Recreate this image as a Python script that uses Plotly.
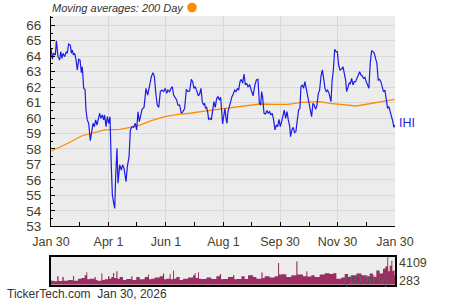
import plotly.graph_objects as go
import pandas as pd

START = pd.Timestamp("2025-01-30")
END = pd.Timestamp("2026-01-30")

# IHI closing prices (day offset from Jan 30, 2025, value)
price_days = [0, 1.4, 2.5, 4.6, 5.7, 7.4, 9.2, 10.3, 11.7, 12.7, 14.5, 16.3, 17.3, 18.7, 20.5, 21.6, 22.6,
              23.7, 25.1, 26.5, 27.9, 29.4, 30.8, 32.2, 33.2, 34.7, 36.1, 37.1, 38.5, 40, 41.7, 43.1, 44.6,
              46, 47.4, 48.8, 50.2, 51.6, 53, 54.5, 55.9, 56.9, 58.4, 59.8, 61.2, 62.6, 64, 65.1, 66.5,
              67.6, 68.6, 70, 71.1, 72.1, 72.9, 74.6, 76, 77.5, 79.6, 81, 82.8, 84.2, 85.9, 87.7, 89.5,
              90.9, 92.3, 93.7, 95.2, 96.6, 98.7, 100.8, 102.6, 104.4, 106.5, 108.2, 109.7, 111.4, 112.8,
              114.3, 116, 117.8, 119.5, 121.3, 122.7, 124.1, 125.9, 127.3, 128.7, 130.1, 131.9, 133.3,
              134.7, 136.5, 138.3, 140, 141.8, 143.6, 145.4, 147.1, 148.9, 150.3, 151.7, 153.1, 154.9,
              156.3, 157.7, 159.1, 160.5, 161.9, 163, 164, 165.1, 166.2, 167.2, 168.7, 170.1, 171.5,
              172.9, 174.3, 175.8, 177.2, 178.6, 180, 181.1, 182.1, 183.2, 184.6, 185.7, 186.7, 187.8,
              189.2, 190.6, 192, 193.4, 194.9, 196.3, 197.7, 199.1, 200.5, 201.9, 203.4, 204.8, 206.2,
              207.6, 209, 210.8, 212.6, 214.4, 216.1, 217.9, 219.6, 221.1, 222.5, 223.5, 224.6, 226,
              227.4, 229.2, 230.6, 232, 233.4, 234.8, 236.2, 237.7, 239.1, 240.5, 241.9, 243.3, 244.7,
              246.1, 247.5, 249, 250.4, 251.8, 253.2, 254.2, 255.6, 257, 258.4, 259.8, 261.3, 262.7,
              264.1, 265.2, 266.6, 268, 269.4, 270.9, 272.3, 273.7, 275.1, 276.5, 277.9, 279.3, 280.8,
              282.2, 283.6, 285, 286.5, 287.9, 289.3, 290.7, 292.1, 293.5, 295, 295.7, 297.1, 298.2,
              299.6, 301, 302.4, 303.8, 305.2, 306.6, 308.4, 309.8, 311.2, 312.6, 313.7, 315.1, 316.5,
              317.5, 319, 320.4, 321.8, 323.2, 324.6, 326, 327.5, 328.9, 330.3, 331.7, 333.1, 334.5,
              335.9, 337.3, 338.7, 340.2, 341.6, 343, 344.4, 345.8, 347.2, 348.6, 350, 351.4, 352.8,
              354.3, 355.7, 357.1, 358.5, 359.9, 361.3, 362.7, 363.8, 364.8]
price_vals = [64.51, 63.8, 64.19, 64.08, 65.0, 63.97, 63.75, 64.29, 63.86, 64.19, 63.97, 64.29, 64.19,
              64.79, 64.72, 64.19, 64.4, 64.08, 64.19, 63.8, 63.11, 63.8, 63.75, 62.94, 63.32, 61.92,
              61.86, 60.52, 59.88, 59.66, 58.54, 59.12, 59.66, 59.44, 59.88, 59.55, 59.88, 60.31, 59.98,
              60.2, 59.88, 60.2, 59.44, 60.09, 59.66, 60.09, 56.86, 55.03, 54.49, 54.16, 56.21, 58.04,
              55.78, 56.53, 56.97, 56.64, 56.97, 56.75, 55.89, 56.86, 57.5, 59.23, 59.44, 59.4, 59.66,
              59.23, 60.41, 59.77, 60.09, 60.56, 60.69, 61.92, 61.49, 62.14, 62.68, 62.94, 62.68, 61.49,
              60.84, 60.69, 61.71, 61.81, 61.71, 61.92, 61.6, 61.81, 61.71, 61.92, 62.03, 61.49, 61.28,
              61.17, 60.84, 60.84, 60.31, 60.41, 60.63, 61.86, 61.71, 61.75, 62.5, 62.35, 61.92, 62.03,
              61.71, 61.43, 61.56, 61.92, 61.06, 60.84, 60.95, 60.63, 60.69, 60.41, 59.92, 59.98, 59.88,
              60.63, 61.06, 60.69, 61.28, 61.38, 61.17, 61.34, 60.2, 59.62, 60.09, 60.63, 59.98, 59.66,
              60.41, 60.74, 61.17, 61.38, 61.56, 61.81, 61.71, 61.92, 61.81, 62.35, 62.5, 62.25, 62.85,
              62.14, 62.25, 62.03, 62.14, 61.71, 61.43, 62.07, 62.46, 62.5, 60.95, 60.84, 61.71, 61.34,
              60.31, 60.26, 60.48, 60.31, 60.41, 60.2, 60.31, 59.88, 59.23, 59.55, 59.44, 59.92, 59.44,
              59.77, 60.2, 60.52, 59.98, 60.41, 59.88, 59.49, 58.8, 59.23, 59.4, 59.06, 59.12, 60.09,
              60.52, 60.63, 62.03, 62.14, 61.92, 62.35, 61.92, 61.34, 60.95, 60.63, 60.09, 60.95, 60.84,
              60.56, 60.84, 61.56, 61.81, 62.72, 63.11, 62.57, 61.92, 61.71, 61.81, 61.6, 61.38, 61.06,
              62.35, 63.11, 64.44, 64.29, 64.29, 63.43, 63.11, 63.15, 63.32, 62.89, 62.46, 61.71, 62.03,
              62.29, 62.2, 62.57, 62.14, 62.35, 62.35, 62.57, 62.78, 63.0, 62.78, 62.72, 62.57, 62.63,
              62.35, 62.14, 61.92, 63.54, 64.36, 64.29, 64.19, 63.86, 63.54, 62.46, 62.5, 62.35, 61.92,
              61.71, 61.81, 61.17, 60.63, 60.74, 60.31, 60.09, 59.77, 59.4, 59.55]

# 200-day moving average
ma_days = [0.3, 18, 32.2, 42.8, 57, 73.2, 85.2, 92.3, 106.4, 120.6, 134.7, 147.5, 166.6, 184.3, 201.9,
           221.8, 237.3, 251.5, 265.6, 285.1, 296, 311.6, 323.9, 336.3, 354.1, 364.7]
ma_vals = [57.87, 58.37, 58.84, 59.01, 59.23, 59.27, 59.38, 59.49, 59.83, 60.09, 60.24, 60.31, 60.48,
           60.63, 60.74, 60.91, 60.89, 60.89, 61.02, 61.06, 60.95, 60.85, 60.78, 60.91, 61.12, 61.21]

# Volume (1000's)
vol_days = [0, 3, 6.5, 8, 12, 13.5, 18, 22, 23.3, 24.5, 28.7, 32.2, 35.7, 37.5, 38.5, 41, 46.3, 47.5,
            49.2, 53.4, 54.5, 57, 60.5, 62, 64, 65.8, 67, 69.3, 70.5, 72.9, 76.4, 79.9, 85.2, 86.5, 90.5,
            94.1, 99.4, 102.9, 104, 106.5, 110, 115.3, 118.8, 120, 122.4, 125.9, 127, 129.5, 130.5, 133,
            136.5, 140.1, 145.4, 150.7, 152.5, 153.5, 156, 157, 159.5, 164.8, 170.1, 175.4, 179, 180.5,
            182.5, 187.8, 193.1, 194.5, 196.7, 202, 205.5, 209, 214.4, 217.9, 223.2, 224.5, 226.7, 232,
            237.3, 240.9, 242, 244.4, 249.7, 255, 260.3, 261.5, 263.8, 267.4, 270.9, 272, 276.2, 279.8,
            285.1, 290.4, 295.7, 299.2, 302.8, 308.1, 311.6, 315.1, 318.7, 324, 329.3, 332.8, 338.1,
            341.6, 345.2, 348.7, 352.2, 354.7, 356.8, 357.8, 359.3, 361.1, 362.2, 362.9, 364.6, 365]
vol_vals = [600, 500, 1250, 550, 1150, 600, 700, 650, 1300, 600, 900, 1000, 1400, 1850, 800, 900, 1150,
            700, 600, 1650, 700, 800, 1250, 900, 1150, 1750, 1000, 2000, 900, 1150, 700, 850, 1250, 700,
            1150, 800, 1150, 1500, 800, 900, 1050, 1250, 1650, 800, 900, 1550, 800, 2100, 900, 1150, 700,
            900, 1050, 1400, 1750, 1000, 1850, 900, 850, 1050, 850, 1250, 1550, 800, 850, 1150, 1400, 800,
            850, 1250, 850, 1400, 1150, 900, 1800, 1000, 1250, 1050, 1250, 3200, 1500, 1550, 1150, 1400,
            3450, 1500, 1500, 1250, 2000, 1200, 1400, 1150, 1500, 1700, 1600, 1700, 900, 1050, 1600, 1150,
            1400, 1650, 1400, 1250, 1650, 1150, 2100, 1650, 2350, 2700, 4109, 2000, 2800, 3550, 2000, 2100,
            1400, 1400]

x_tick_dates = ["2025-01-30", "2025-04-01", "2025-06-01", "2025-08-01", "2025-09-30", "2025-11-30", "2026-01-30"]
x_tick_text = ["Jan 30", "Apr 1", "Jun 1", "Aug 1", "Sep 30", "Nov 30", "Jan 30"]
x_minor_dates = ["2025-03-01", "2025-05-01", "2025-07-01", "2025-08-31", "2025-10-31", "2025-12-31"]
y_ticks = list(range(53, 67))
vol_labels = ["4109", "283"]


def to_dates(days):
    return [(START + pd.Timedelta(days=d)).strftime("%Y-%m-%d %H:%M") for d in days]


W, H = 450, 300
L, R = 51, 395
TXT = "#4a4026"
GRID = "#d9d9d9"
BG = "#ececec"

fig = go.Figure()
fig.add_trace(go.Scatter(x=to_dates(vol_days), y=vol_vals, mode="lines", line=dict(width=0, shape="hv"),
                         fill="tozeroy", fillcolor="#9b2d60", xaxis="x2", yaxis="y2", hoverinfo="skip"))
fig.add_trace(go.Scatter(x=to_dates(ma_days), y=ma_vals, mode="lines",
                         line=dict(color="#ff8c00", width=1.3)))
fig.add_trace(go.Scatter(x=to_dates(price_days), y=price_vals, mode="lines",
                         line=dict(color="#1c1ce6", width=1.2)))

xr = [START.strftime("%Y-%m-%d"), END.strftime("%Y-%m-%d")]

fig.update_layout(
    width=W, height=H, margin=dict(l=0, r=0, t=0, b=0),
    paper_bgcolor="white", plot_bgcolor=BG, showlegend=False,
    font=dict(family="Liberation Sans, Arial, sans-serif", color=TXT),
    xaxis=dict(domain=[L / W, R / W], type="date", range=xr, anchor="y",
               tickmode="array", tickvals=x_tick_dates, ticktext=x_tick_text,
               ticks="inside", ticklen=4, tickcolor="black", tickwidth=1,
               showline=True, linecolor="black", linewidth=1,
               showgrid=True, gridcolor=GRID, gridwidth=1, zeroline=False,
               tickfont=dict(size=12.5, color=TXT), automargin=False, ticklabelstandoff=4,
               minor=dict(tickmode="array", tickvals=x_minor_dates, ticks="inside",
                          ticklen=4, tickcolor="black", showgrid=False)),
    yaxis=dict(domain=[(H - 226.3) / H, (H - 16) / H], range=[53, 66.6], anchor="x",
               tickmode="array", tickvals=y_ticks,
               ticks="inside", ticklen=4, tickcolor="black",
               showline=True, linecolor="black", linewidth=1,
               showgrid=True, gridcolor=GRID, gridwidth=1, zeroline=False,
               tickfont=dict(size=13.5, color=TXT), automargin=False, ticklabelstandoff=6,
               minor=dict(dtick=0.5, tick0=53, ticks="inside", ticklen=2, tickcolor="black", showgrid=False)),
    xaxis2=dict(domain=[L / W, R / W], type="date", range=xr, anchor="y2",
                showticklabels=False, ticks="", showgrid=False, zeroline=False,
                showline=True, mirror=True, linecolor="black", linewidth=1.5),
    yaxis2=dict(domain=[(H - 284.7) / H, (H - 256.7) / H], range=[0, 4150], anchor="x2",
                showticklabels=False, ticks="", showgrid=False, zeroline=False,
                showline=True, mirror=True, linecolor="black", linewidth=1.5),
)

fig.add_annotation(xref="paper", yref="paper", x=50 / W, y=1 - 8 / H, xanchor="left", yanchor="middle",
                   text="<i>Moving averages: 200 Day</i>", showarrow=False,
                   font=dict(size=11, color="#333333"))
fig.add_shape(type="circle", xref="paper", yref="paper",
              x0=(192 - 4.8) / W, x1=(192 + 4.8) / W, y0=1 - (7.5 + 4.8) / H, y1=1 - (7.5 - 4.8) / H,
              fillcolor="#ff8c00", line=dict(width=0))
fig.add_annotation(xref="paper", yref="y", x=397 / W, y=price_vals[-1] + 0.1, xanchor="left", yanchor="middle",
                   text="IHI", showarrow=False, font=dict(size=12.5, color="#1c1ce6"))
fig.add_annotation(xref="paper", yref="paper", x=396.5 / W, y=1 - 262.7 / H, xanchor="left", yanchor="middle",
                   text=vol_labels[0], showarrow=False, font=dict(size=12.5, color=TXT))
fig.add_annotation(xref="paper", yref="paper", x=396.5 / W, y=1 - 281 / H, xanchor="left", yanchor="middle",
                   text=vol_labels[1], showarrow=False, font=dict(size=12.5, color=TXT))
fig.add_annotation(xref="paper", yref="paper", x=391 / W, y=1 - 279.5 / H, xanchor="right", yanchor="middle",
                   text="(1000's)", showarrow=False, font=dict(size=12.5, color="rgba(70,110,95,0.85)"))
fig.add_annotation(xref="paper", yref="paper", x=5 / W, y=1 - 294 / H, xanchor="left", yanchor="middle",
                   text="TickerTech.com\u00a0 Jan 30, 2026", showarrow=False,
                   font=dict(size=12, color="#333333"))

fig.write_html("out.html")
